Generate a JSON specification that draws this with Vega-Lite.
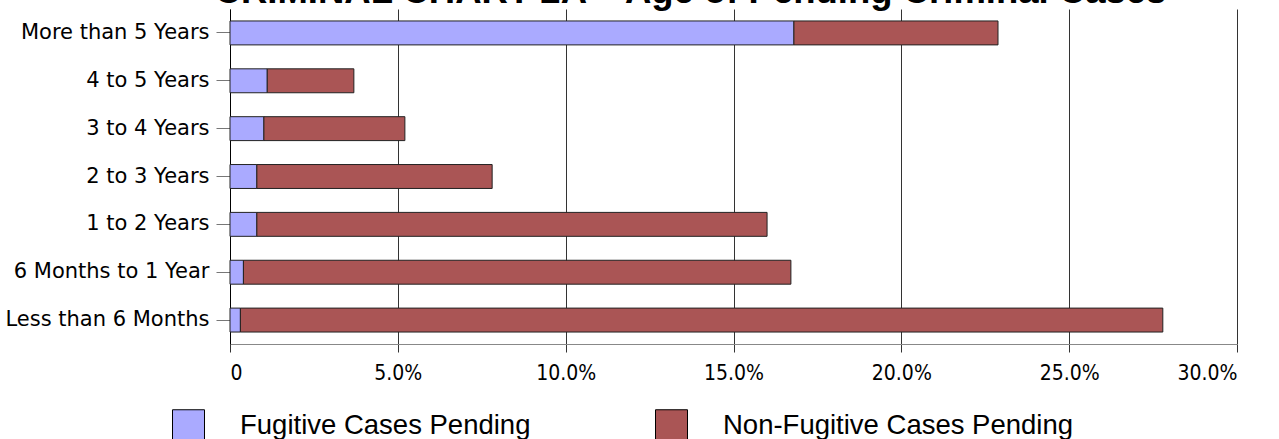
{
  "$schema": "https://vega.github.io/schema/vega-lite/v6.json",
  "autosize": {"type": "none"},
  "width": 1007,
  "height": 335,
  "padding": {"left": 230, "top": 9, "right": 42, "bottom": 95},
  "title": {
    "text": "CRIMINAL CHART 2A – Age of Pending Criminal Cases",
    "fontSize": 36.5,
    "font": "Liberation Sans",
    "fontWeight": "bold",
    "color": "black",
    "anchor": "middle",
    "baseline": "alphabetic",
    "offset": -30.5,
    "dx": -43
  },
  "data": {
    "values": [
      {"age": "More than 5 Years", "series": "Fugitive Cases Pending", "pct": 16.8},
      {"age": "More than 5 Years", "series": "Non-Fugitive Cases Pending", "pct": 6.08},
      {"age": "4 to 5 Years", "series": "Fugitive Cases Pending", "pct": 1.11},
      {"age": "4 to 5 Years", "series": "Non-Fugitive Cases Pending", "pct": 2.58},
      {"age": "3 to 4 Years", "series": "Fugitive Cases Pending", "pct": 1.01},
      {"age": "3 to 4 Years", "series": "Non-Fugitive Cases Pending", "pct": 4.2},
      {"age": "2 to 3 Years", "series": "Fugitive Cases Pending", "pct": 0.8},
      {"age": "2 to 3 Years", "series": "Non-Fugitive Cases Pending", "pct": 7.01},
      {"age": "1 to 2 Years", "series": "Fugitive Cases Pending", "pct": 0.8},
      {"age": "1 to 2 Years", "series": "Non-Fugitive Cases Pending", "pct": 15.2},
      {"age": "6 Months to 1 Year", "series": "Fugitive Cases Pending", "pct": 0.4},
      {"age": "6 Months to 1 Year", "series": "Non-Fugitive Cases Pending", "pct": 16.31},
      {"age": "Less than 6 Months", "series": "Fugitive Cases Pending", "pct": 0.31},
      {"age": "Less than 6 Months", "series": "Non-Fugitive Cases Pending", "pct": 27.48}
    ]
  },
  "mark": {"type": "bar", "stroke": "#222222", "strokeWidth": 1},
  "encoding": {
    "y": {
      "field": "age",
      "type": "nominal",
      "sort": ["More than 5 Years", "4 to 5 Years", "3 to 4 Years", "2 to 3 Years", "1 to 2 Years", "6 Months to 1 Year", "Less than 6 Months"],
      "scale": {"paddingInner": 0.5, "paddingOuter": 0.25},
      "axis": {
        "title": null,
        "labelFont": "DejaVu Sans",
        "labelFontSize": 21,
        "labelColor": "black",
        "tickColor": "#777777",
        "tickSize": 14,
        "labelPadding": 7,
        "domainColor": "black",
        "grid": false,
        "labelLimit": 0
      }
    },
    "x": {
      "field": "pct",
      "type": "quantitative",
      "stack": "zero",
      "scale": {"domain": [0, 30], "nice": false},
      "axis": {
        "title": null,
        "values": [0, 5, 10, 15, 20, 25, 30],
        "labelExpr": "datum.value == 0 ? '0' : format(datum.value, '.1f') + '%'",
        "grid": true,
        "gridColor": "#333333",
        "gridOpacity": 1,
        "tickColor": "#333333",
        "tickSize": 8,
        "domainColor": "#888888",
        "labelFont": "DejaVu Sans Condensed, Liberation Sans, sans-serif",
        "labelFontSize": 21,
        "labelColor": "black",
        "labelPadding": 10
      }
    },
    "color": {
      "field": "series",
      "type": "nominal",
      "scale": {
        "domain": ["Fugitive Cases Pending", "Non-Fugitive Cases Pending"],
        "range": ["#aaaaff", "#aa5555"]
      },
      "legend": {
        "title": null,
        "orient": "none",
        "legendX": -58,
        "legendY": 400,
        "direction": "horizontal",
        "symbolType": "square",
        "symbolSize": 1024,
        "symbolStrokeColor": "black",
        "symbolStrokeWidth": 1,
        "symbolOpacity": 1,
        "labelFont": "Liberation Sans",
        "labelFontSize": 27.5,
        "labelColor": "black",
        "labelOffset": 35,
        "columnPadding": 122,
        "labelLimit": 0,
        "padding": 0
      }
    }
  },
  "config": {"view": {"stroke": null}}
}
